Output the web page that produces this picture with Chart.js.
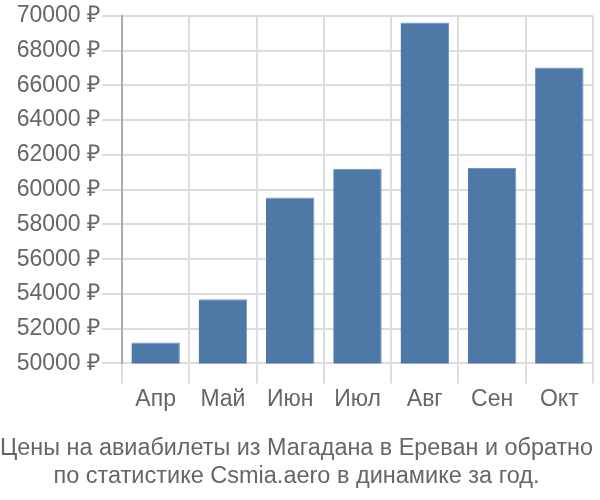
<!DOCTYPE html>
<html>
<head>
<meta charset="utf-8">
<script src="https://cdn.jsdelivr.net/npm/chart.js@4/dist/chart.umd.min.js"></script>
<style>
  html, body { margin: 0; padding: 0; background: #fff; }
  #wrap { width: 600px; height: 500px; }
</style>
</head>
<body>
<div id="wrap"><canvas id="c" width="600" height="500"></canvas></div>
<script>
const categories = ["Апр", "Май", "Июн", "Июл", "Авг", "Сен", "Окт"];
const prices = [51200, 53700, 59550, 61200, 69620, 61250, 67020];
const titleLines = ["Цены на авиабилеты из Магадана в Ереван и обратно", "по статистике Csmia.aero в динамике за год."];
const yMin = 50000, yMax = 70000, yStep = 2000;

const gridColor = "#dddddd";
const textColor = "#666666";
const fontFamily = "'Liberation Sans', Arial, sans-serif";

new Chart(document.getElementById("c"), {
  type: "bar",
  data: {
    labels: categories,
    datasets: [{
      data: prices,
      backgroundColor: "#4e79a7",
      borderColor: "#7196bf",
      borderWidth: { top: 1, left: 0, right: 1, bottom: 0 },
      barPercentage: 0.9,
      categoryPercentage: 0.8
    }]
  },
  options: {
    responsive: false,
    devicePixelRatio: 1,
    animation: false,
    layout: { padding: { left: 0, right: 7, top: 5, bottom: 10 } },
    plugins: {
      legend: { display: false },
      tooltip: { enabled: false },
      title: {
        display: true,
        position: "bottom",
        text: titleLines,
        color: textColor,
        font: { family: fontFamily, size: 23.5, weight: "normal", lineHeight: 1.19 },
        padding: { top: 19, bottom: 0 }
      }
    },
    scales: {
      x: {
        grid: { color: gridColor, lineWidth: 2, tickLength: 20, offset: true },
        border: { color: gridColor, width: 2 },
        ticks: { color: textColor, font: { family: fontFamily, size: 23 }, padding: 2 }
      },
      y: {
        min: yMin,
        max: yMax,
        afterFit: s => { s.width = 122; },
        grid: { color: gridColor, lineWidth: 2, tickLength: 20 },
        border: { color: "#aaaaaa", width: 2 },
        ticks: {
          stepSize: yStep,
          color: textColor,
          font: { family: fontFamily, size: 23 },
          padding: 2,
          callback: v => v + " ₽"
        }
      }
    }
  }
});
</script>
</body>
</html>
